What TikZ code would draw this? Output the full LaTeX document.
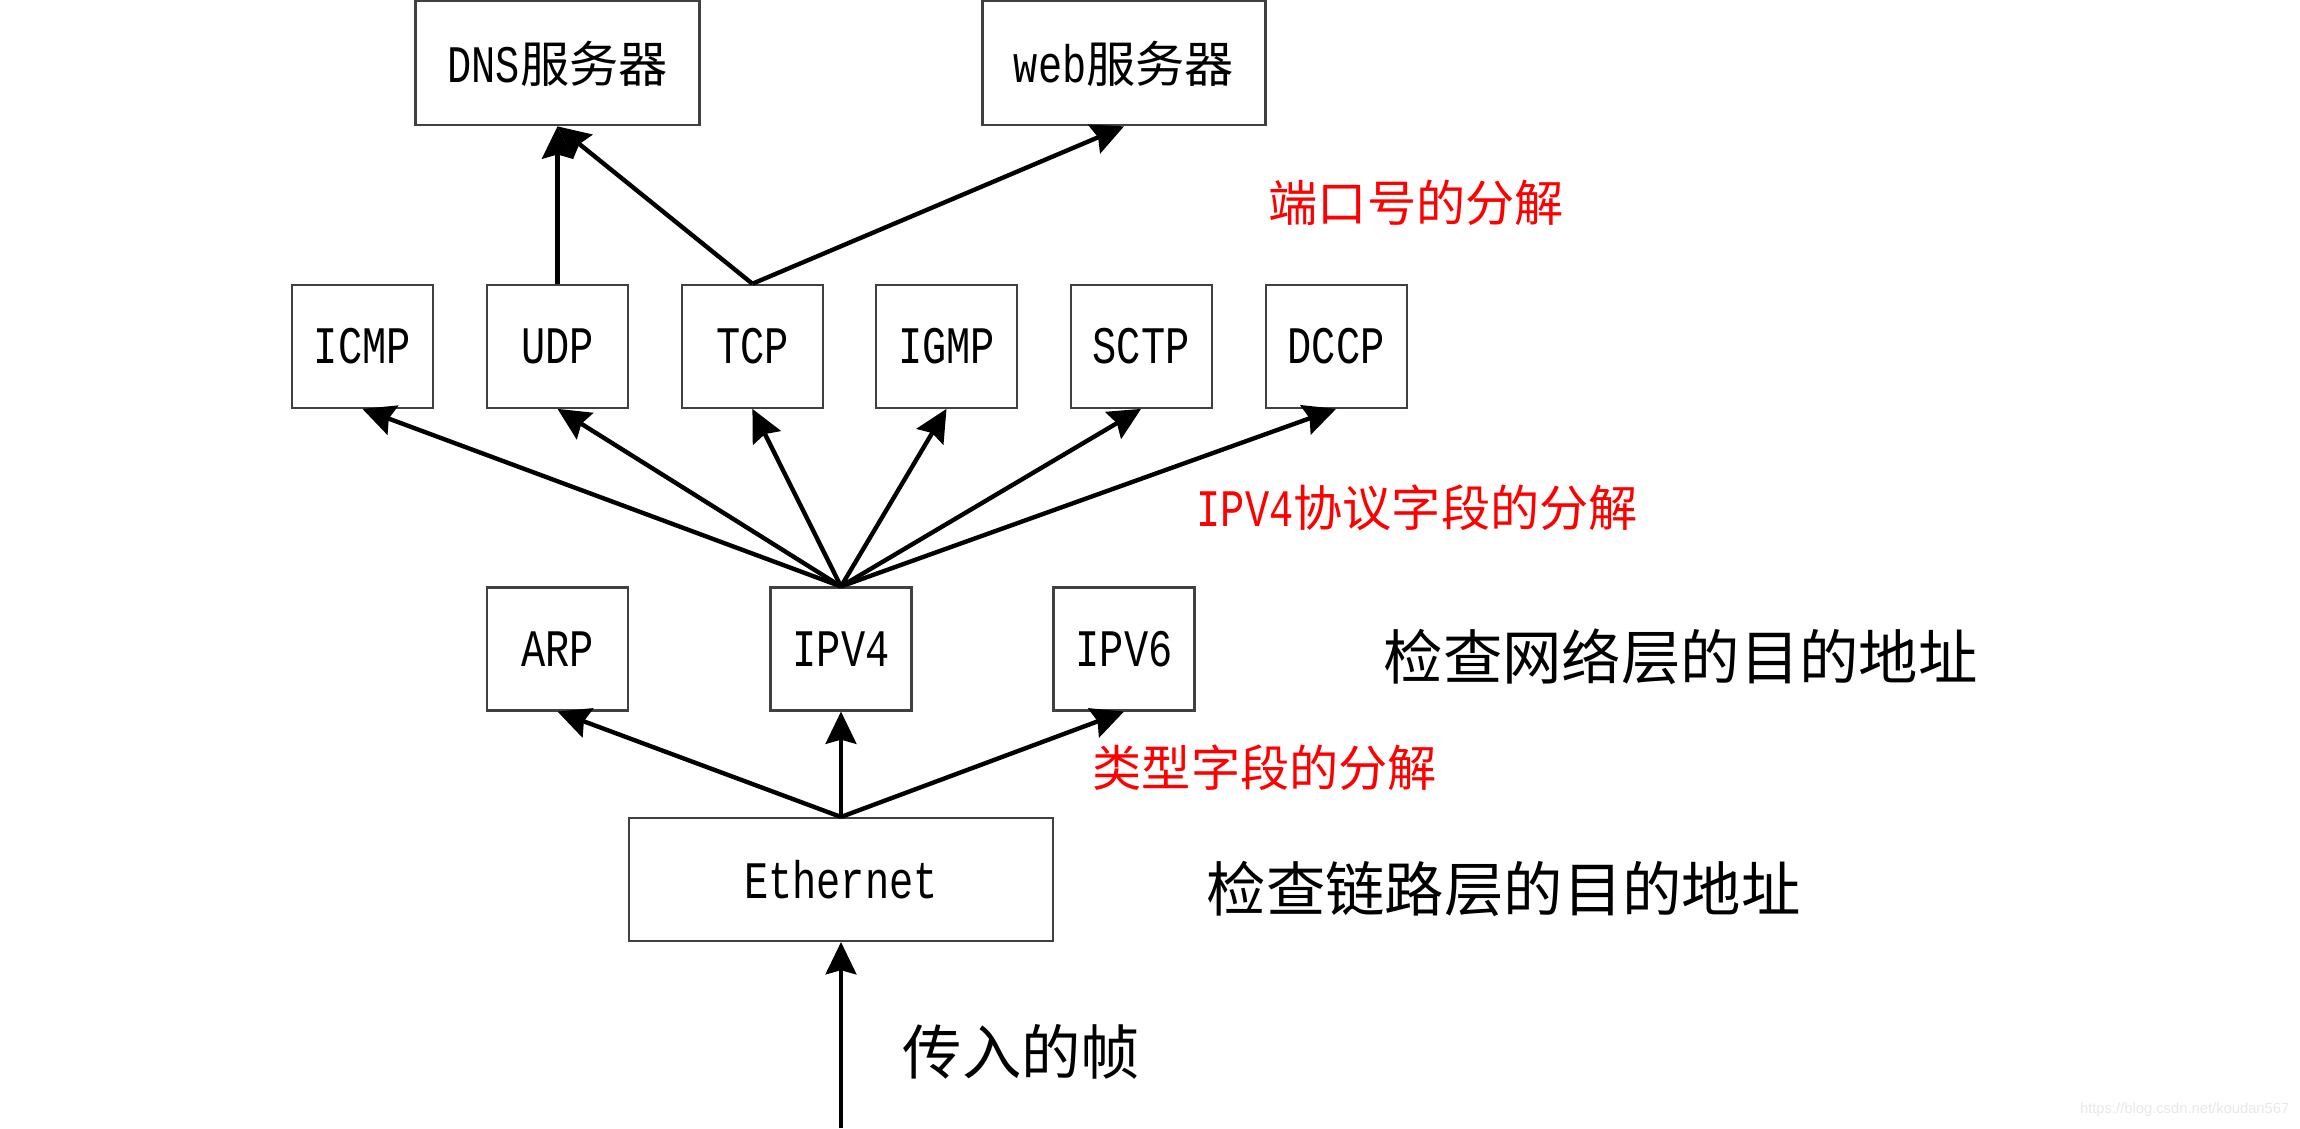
\documentclass[tikz,border=0pt]{standalone}
\usepackage{fontspec}
\usepackage{tikz}
\usetikzlibrary{arrows.meta}

\newfontfamily\boxfont{Liberation Mono}[FakeStretch=0.765]
\newfontfamily\cjk{Noto Sans CJK SC}
\newfontfamily\markfont{Liberation Sans}

\tikzset{
  proto/.style={draw=black!75, line width=0.6pt, inner sep=0pt,
    minimum width=1.41cm, minimum height=1.23cm,
    font=\boxfont\fontsize{15pt}{17pt}\selectfont},
  redlbl/.style={anchor=west, inner sep=0pt, text=red,
    font=\boxfont\fontsize{15pt}{17pt}\selectfont},
  blacklbl/.style={anchor=west, inner sep=0pt,
    font=\cjk\fontsize{16.9pt}{19pt}\selectfont},
  arr/.style={line width=1.25pt, -{Stealth[length=9.2pt,width=8.8pt,inset=1.2pt]}},
  thinarr/.style={line width=0.95pt, -{Stealth[length=9.2pt,width=8.8pt,inset=1.2pt]}}
}
\newcommand{\zh}[1]{{\cjk\fontsize{14pt}{16pt}\selectfont #1}}

\begin{document}
\begin{tikzpicture}
\useasboundingbox (0,0) rectangle (23,-11.28);

% servers
\node[proto, minimum width=2.84cm, minimum height=1.24cm] (dns) at (5.575,-0.633) {DNS\zh{服务器}};
\node[proto, minimum width=2.83cm, minimum height=1.24cm] (web) at (11.24,-0.633) {web\zh{服务器}};
\node[redlbl] (lblport) at (12.68,-2.025) {\zh{端口号的分解}};

% transport layer
\node[proto] (icmp) at (3.624,-3.463) {ICMP};
\node[proto] (udp) at (5.575,-3.463) {UDP};
\node[proto] (tcp) at (7.524,-3.463) {TCP};
\node[proto] (igmp) at (9.465,-3.463) {IGMP};
\node[proto] (sctp) at (11.411,-3.463) {SCTP};
\node[proto] (dccp) at (13.361,-3.463) {DCCP};
\node[redlbl] (lblproto) at (11.96,-5.075) {IPV4\zh{协议字段的分解}};

% network layer
\node[proto] (arp) at (5.575,-6.49) {ARP};
\node[proto] (ipv4) at (8.41,-6.49) {IPV4};
\node[proto] (ipv6) at (11.24,-6.49) {IPV6};
\node[blacklbl] (lblnet) at (13.83,-6.57) {检查网络层的目的地址};
\node[redlbl] (lbltype) at (10.92,-7.68) {\zh{类型字段的分解}};

% link layer
\node[proto, minimum width=4.24cm] (eth) at (8.41,-8.795) {Ethernet};
\node[blacklbl] (lbllink) at (12.06,-8.885) {检查链路层的目的地址};
\node[blacklbl] (lblin) at (9.02,-10.52) {传入的帧};
\coordinate (in) at (8.41,-11.28);

\node[anchor=east, inner sep=0pt, text=black!9,
  font=\markfont\fontsize{4.2pt}{5pt}\selectfont] (mark) at (22.9,-11.10) {https://blog.csdn.net/koudan567};

% arrows
\draw[thinarr] (in) -- (eth.south);
\draw[arr] (eth.north) -- (arp.south);
\draw[thinarr] (eth.north) -- (ipv4.south);
\draw[arr] (eth.north) -- (ipv6.south);

\foreach \p in {icmp,udp,tcp,igmp,sctp,dccp}
  \draw[arr] (ipv4.north) -- (\p.south);

\draw[arr] (udp.north) -- (dns.south);
\draw[arr] (tcp.north) -- (dns.south);
\draw[arr] (tcp.north) -- (web.south);
\end{tikzpicture}
\end{document}
